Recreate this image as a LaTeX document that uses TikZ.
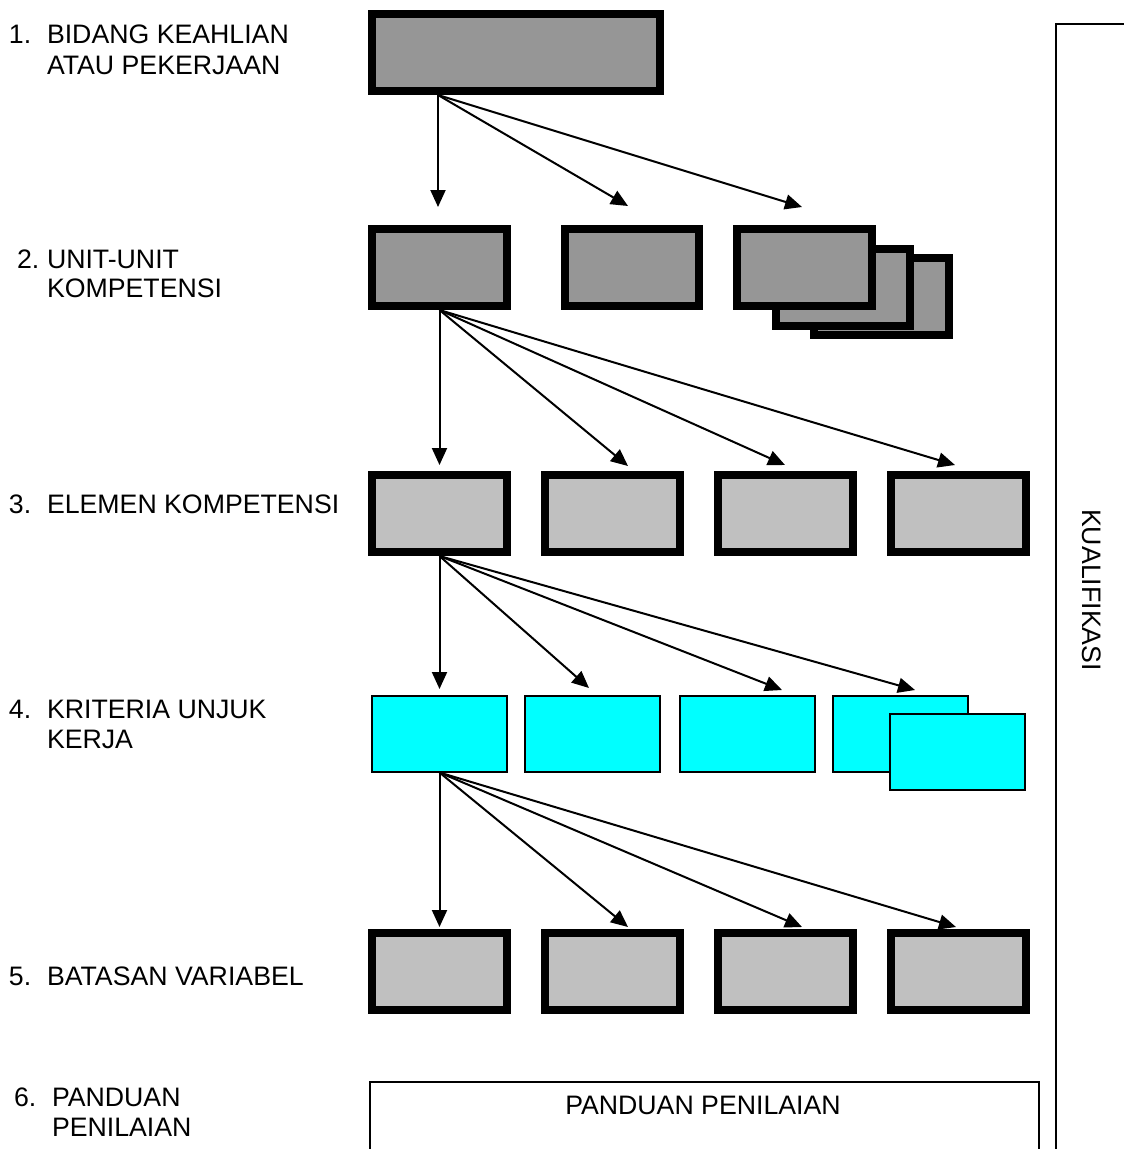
\documentclass[tikz,border=0pt]{standalone}
\usepackage{fontspec}
\setmainfont{Liberation Sans}
\usetikzlibrary{arrows.meta}
\definecolor{boxdark}{RGB}{150,150,150}
\definecolor{boxlight}{RGB}{192,192,192}
\definecolor{kukcyan}{RGB}{0,255,255}
\tikzset{
  darkbox/.style={draw,line width=8pt,fill=boxdark,minimum width=135pt,minimum height=77pt,inner sep=0pt},
  lightbox/.style={darkbox,fill=boxlight},
  cyanbox/.style={draw,line width=2pt,fill=kukcyan,minimum width=135pt,minimum height=76pt,inner sep=0pt},
  link/.style={line width=2pt,-{Triangle[length=17pt,width=15pt]}},
  lbl/.style={anchor=base west,inner sep=0pt}
}
\begin{document}
\begin{tikzpicture}[x=1pt,y=-1pt,line width=2pt,font=\fontsize{26.7}{31}\selectfont]
\useasboundingbox (0,0) rectangle (1124,1149);
% labels on the left
\node[lbl] (num1) at (8,43) {1.};\node[lbl] (lab1a) at (46,43) {BIDANG KEAHLIAN};\node[lbl] (lab1b) at (46,74) {ATAU PEKERJAAN};
\node[lbl] (num2) at (16,268) {2.};\node[lbl] (lab2a) at (46,268) {UNIT-UNIT};\node[lbl] (lab2b) at (46,297) {KOMPETENSI};
\node[lbl] (num3) at (8,513) {3.};\node[lbl] (lab3) at (46,513) {ELEMEN KOMPETENSI};
\node[lbl] (num4) at (8,718) {4.};\node[lbl] (lab4a) at (46,718) {KRITERIA UNJUK};\node[lbl] (lab4b) at (46,748) {KERJA};
\node[lbl] (num5) at (8,985) {5.};\node[lbl] (lab5) at (46,985) {BATASAN VARIABEL};
\node[lbl] (num6) at (13,1106) {6.};\node[lbl] (lab6a) at (51,1106) {PANDUAN};\node[lbl] (lab6b) at (51,1136) {PENILAIAN};
% boxes
\node[darkbox,minimum width=288pt] (bidang) at (516,52.5) {};
\node[darkbox] (unitc) at (881,296) {};\node[darkbox,minimum width=134pt] (unitb) at (843,287) {};
\node[darkbox] (unit1) at (439.5,267.5) {};\node[darkbox,minimum width=134pt] (unit2) at (632,267.5) {};\node[darkbox] (unit3) at (804.5,267.5) {};
\node[lightbox] (elemen1) at (439.5,513.5) {};\node[lightbox] (elemen2) at (612.5,513.5) {};
\node[lightbox] (elemen3) at (785.5,513.5) {};\node[lightbox] (elemen4) at (958.5,513.5) {};
\node[cyanbox] (kuk1) at (439.5,733.5) {};\node[cyanbox] (kuk2) at (592.5,733.5) {};\node[cyanbox] (kuk3) at (747,733.5) {};
\node[cyanbox] (kuk4) at (900.5,733.5) {};\node[cyanbox] (kuk5) at (957.5,752) {};
\node[lightbox] (batas1) at (439.5,971.5) {};\node[lightbox] (batas2) at (612.5,971.5) {};
\node[lightbox] (batas3) at (785.5,971.5) {};\node[lightbox] (batas4) at (958.5,971.5) {};
\node[draw,anchor=north west,minimum width=669pt,minimum height=120pt,inner sep=0pt] (panduan) at (369,1081) {};
\node[anchor=base,inner sep=0pt] (pantext) at (703,1114) {PANDUAN PENILAIAN};
% kualifikasi frame
\draw (1056,1160) |- (1130,24);
\node[rotate=-90,inner sep=0pt] (kualif) at (1092,590) {KUALIFIKASI};
% arrow ends
\coordinate (o1) at ([xshift=70pt]bidang.south west);
\coordinate (t11) at (438,207);\coordinate (t12) at (628,206);\coordinate (t13) at (802,207);
\coordinate (t21) at (439.5,465);\coordinate (t22) at (628,466);\coordinate (t23) at (785,465);\coordinate (t24) at (955,465);
\coordinate (t31) at (439.5,689);\coordinate (t32) at (589,688);\coordinate (t33) at (782,690);\coordinate (t34) at (915,690);
\coordinate (t41) at (439.5,927);\coordinate (t42) at (628,927);\coordinate (t43) at (802,927);\coordinate (t44) at (956,927);
\draw[link] (o1)--(t11);\draw[link] (o1)--(t12);\draw[link] (o1)--(t13);
\draw[link] (unit1.south)--(t21);\draw[link] (unit1.south)--(t22);\draw[link] (unit1.south)--(t23);\draw[link] (unit1.south)--(t24);
\draw[link] (elemen1.south)--(t31);\draw[link] (elemen1.south)--(t32);\draw[link] (elemen1.south)--(t33);\draw[link] (elemen1.south)--(t34);
\draw[link] (kuk1.south)--(t41);\draw[link] (kuk1.south)--(t42);\draw[link] (kuk1.south)--(t43);\draw[link] (kuk1.south)--(t44);
\end{tikzpicture}
\end{document}
